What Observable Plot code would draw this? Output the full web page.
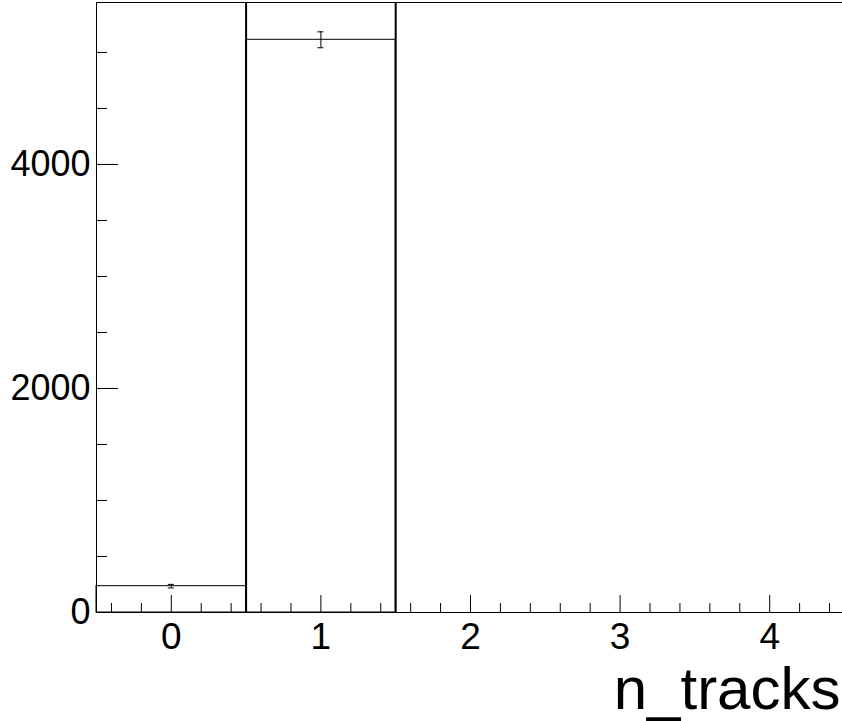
<!DOCTYPE html>
<html>
<head>
<meta charset="utf-8">
<script src="https://cdn.jsdelivr.net/npm/d3@7"></script>
<script src="https://cdn.jsdelivr.net/npm/@observablehq/plot@0.6"></script>
<style>
  body { margin: 0; background: white; }
  #chart svg { display: block; }
</style>
</head>
<body>
<div id="chart"></div>
<script>
// Histogram bins (n_tracks)
const binCenters = [0, 1, 2, 3, 4];
const binCounts = [235, 5113, 0, 0, 0];
const binErrors = [16, 71, 0, 0, 0];
// Cut lines
const cutLines = [0.5, 1.5];
// Axis ticks
const xMajorTicks = [0, 1, 2, 3, 4];
const xMinorTicks = [-0.4, -0.2, 0.2, 0.4, 0.6, 0.8, 1.2, 1.4, 1.6, 1.8, 2.2, 2.4, 2.6, 2.8, 3.2, 3.4, 3.6, 3.8, 4.2, 4.4];
const yMajorTicks = [0, 2000, 4000];
const yMinorTicks = [500, 1000, 1500, 2500, 3000, 3500, 4500, 5000];
const xTitle = "n_tracks";

const bins = binCenters.map((c, i) => ({x1: c - 0.5, x2: c + 0.5, x: c, y: binCounts[i], e: binErrors[i]}));
const withErr = bins.filter(d => d.e > 0);

const W = 842, H = 721;
const mL = 96, mR = -2, mT = 2, mB = 109;
const frameW = W - mL - mR, frameH = H - mT - mB;
const font = "Liberation Sans, Arial, Helvetica, sans-serif";

const chart = Plot.plot({
  width: W,
  height: H,
  marginLeft: mL,
  marginRight: mR,
  marginTop: mT,
  marginBottom: mB,
  style: {fontFamily: font, background: "white"},
  x: {domain: [-0.5, 4.5], axis: null},
  y: {domain: [0, 5446], axis: null},
  marks: [
    // histogram outline
    Plot.rectY(bins, {x1: "x1", x2: "x2", y1: 0, y2: "y", fill: "none", stroke: "black", strokeWidth: 1}),
    // error bars
    Plot.ruleX(withErr, {x: "x", y1: d => d.y - d.e, y2: d => d.y + d.e, stroke: "black", strokeWidth: 1}),
    Plot.ruleY(withErr, {y: d => d.y - d.e, x1: d => d.x - 0.02, x2: d => d.x + 0.02, stroke: "black", strokeWidth: 1}),
    Plot.ruleY(withErr, {y: d => d.y + d.e, x1: d => d.x - 0.02, x2: d => d.x + 0.02, stroke: "black", strokeWidth: 1}),
    // cut lines
    Plot.ruleX(cutLines, {x: d => d, stroke: "black", strokeWidth: 2}),
    // x ticks
    Plot.tickX(xMajorTicks, {x: d => d, insetTop: frameH - 17, stroke: "black", strokeWidth: 1}),
    Plot.tickX(xMinorTicks, {x: d => d, insetTop: frameH - 9, stroke: "black", strokeWidth: 1}),
    // y ticks
    Plot.tickY(yMajorTicks, {y: d => d, insetRight: frameW - 22, stroke: "black", strokeWidth: 1}),
    Plot.tickY(yMinorTicks, {y: d => d, insetRight: frameW - 11, stroke: "black", strokeWidth: 1}),
    // frame
    Plot.frame({stroke: "black", strokeWidth: 1}),
    // tick labels
    Plot.text(xMajorTicks, {x: d => d, text: d => String(d), frameAnchor: "bottom", lineAnchor: "top", dy: 10, fontSize: 37, fill: "black"}),
    Plot.text(yMajorTicks, {y: d => d, text: d => String(d), frameAnchor: "left", textAnchor: "end", dx: -6, fontSize: 36, fill: "black"}),
    // axis title
    Plot.text([xTitle], {text: d => d, frameAnchor: "bottom-right", textAnchor: "end", lineAnchor: "bottom", dx: -4, dy: 96, fontSize: 60, fill: "black"})
  ]
});
document.getElementById("chart").appendChild(chart);
</script>
</body>
</html>
